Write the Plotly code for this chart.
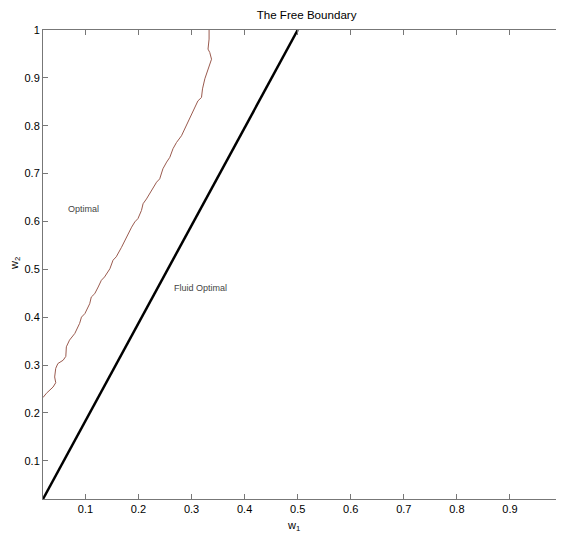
import plotly.graph_objects as go

# Data
optimal_w1 = [0.020, 0.0265, 0.039, 0.044, 0.042, 0.044, 0.048, 0.058, 0.063, 0.064, 0.070,
              0.080, 0.089, 0.0925, 0.099, 0.108, 0.111, 0.1175, 0.124, 0.130, 0.136, 0.146,
              0.152, 0.158, 0.168, 0.174, 0.180, 0.187, 0.193, 0.199, 0.2056, 0.2086, 0.215,
              0.221, 0.2275, 0.234, 0.240, 0.246, 0.253, 0.259, 0.265, 0.2716, 0.281, 0.290,
              0.300, 0.306, 0.312, 0.3187, 0.3206, 0.325, 0.331, 0.3376, 0.3343, 0.331, 0.333, 0.333]
optimal_w2 = [0.232, 0.241, 0.254, 0.263, 0.275, 0.293, 0.303, 0.310, 0.318, 0.338, 0.352,
              0.366, 0.387, 0.400, 0.4075, 0.428, 0.442, 0.449, 0.463, 0.477, 0.484, 0.501,
              0.519, 0.526, 0.546, 0.560, 0.571, 0.588, 0.599, 0.606, 0.623, 0.637, 0.647,
              0.658, 0.672, 0.682, 0.689, 0.710, 0.724, 0.734, 0.752, 0.765, 0.779, 0.800,
              0.821, 0.835, 0.852, 0.859, 0.877, 0.898, 0.919, 0.939, 0.953, 0.960, 0.981, 1.0]

fluid_w1 = [0.02, 0.5]
fluid_w2 = [0.02, 1.0]

tick_vals = [0.1, 0.2, 0.3, 0.4, 0.5, 0.6, 0.7, 0.8, 0.9, 1.0]
tick_text = ["0.1", "0.2", "0.3", "0.4", "0.5", "0.6", "0.7", "0.8", "0.9", "1"]

FONT = "Liberation Sans, Arial, Helvetica, sans-serif"

fig = go.Figure()
fig.add_trace(go.Scatter(x=optimal_w1, y=optimal_w2, mode="lines",
                         line=dict(color="#9a5a4e", width=1), showlegend=False))
fig.add_trace(go.Scatter(x=fluid_w1, y=fluid_w2, mode="lines",
                         line=dict(color="black", width=2.5), showlegend=False))

axis_common = dict(
    showgrid=False, zeroline=False, showline=True, linecolor="#777777", linewidth=1,
    mirror="ticks", ticks="inside", ticklen=5, tickcolor="#777777", tickwidth=1,
    tickvals=tick_vals, ticktext=tick_text, automargin=False,
    ticklabeloverflow="allow",
    tickfont=dict(family=FONT, size=11, color="black"),
)

fig.update_layout(
    autosize=False,
    width=556, height=525,
    margin=dict(l=35, r=1, t=22, b=34, autoexpand=False),
    paper_bgcolor="white", plot_bgcolor="white",
    title=dict(text="The Free Boundary", x=0.537, xanchor="center",
               y=1 - 7 / 525, yanchor="middle", automargin=False,
               font=dict(family=FONT, size=11.6, color="black")),
    xaxis=dict(range=[0.02, 1.0], **axis_common),
    yaxis=dict(range=[0.02, 1.0], **axis_common),
    annotations=[
        dict(text="Optimal", x=0.064, y=0.627, xref="x", yref="y", showarrow=False,
             xanchor="left", yanchor="middle",
             font=dict(family=FONT, size=9, color="#444444")),
        dict(text="Fluid Optimal", x=0.264, y=0.46, xref="x", yref="y", showarrow=False,
             xanchor="left", yanchor="middle",
             font=dict(family=FONT, size=9, color="#444444")),
        dict(text="w<sub>1</sub>", x=0.493, y=-0.058, xref="x", yref="paper", showarrow=False,
             xanchor="center", yanchor="middle",
             font=dict(family=FONT, size=11, color="black")),
        dict(text="w<sub>2</sub>", x=-0.054, y=0.503, xref="paper", yref="paper", showarrow=False,
             xanchor="center", yanchor="middle", textangle=-90,
             font=dict(family=FONT, size=11, color="black")),
    ],
)

fig.write_html("out.html")
